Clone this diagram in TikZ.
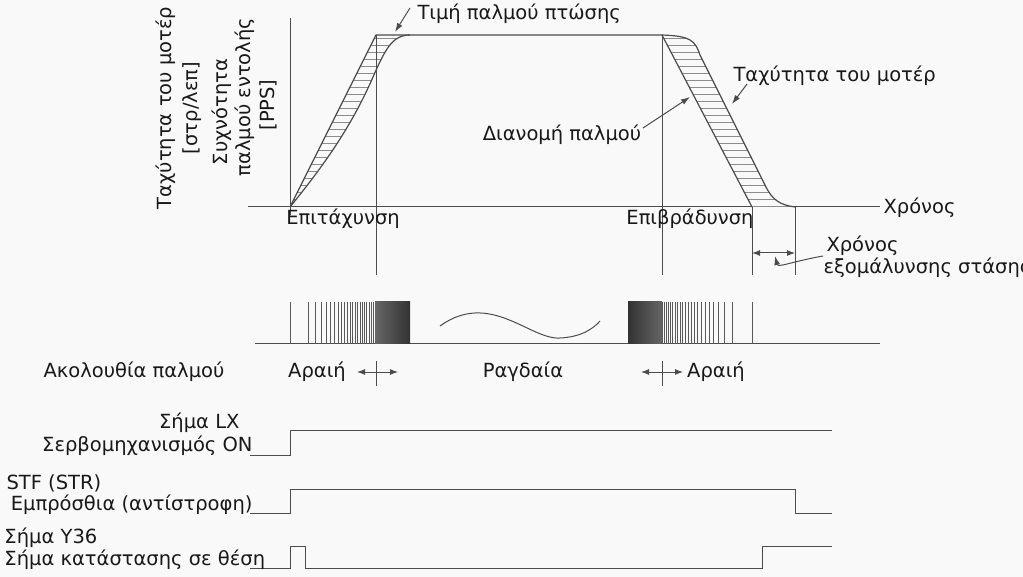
\documentclass[tikz,border=0pt]{standalone}
\usepackage{fontspec}
\setmainfont{DejaVu Sans}
\usetikzlibrary{arrows.meta}
\begin{document}
\begin{tikzpicture}[x=1pt,y=-1pt,line width=1pt,
  ln/.style={draw=black!70},
  lbl/.style={font=\fontsize{19.5}{22}\selectfont,inner sep=0pt,text=black!90},
  arr/.style={ln,-{Latex[length=9pt,width=6pt]}},
  hat/.style={draw=black!45,line width=0.6pt}]
\fill[white!95!gray] (0,0) rectangle (1023,577);
\useasboundingbox (0,0) rectangle (1023,577);
% axes
\draw[ln] (290,18) -- (290,215);
\draw[ln] (248,207) -- (880,207);
\node[lbl,anchor=west] (xr) at (883,208) {Χρόνος};
% hatching left
\begin{scope}
\clip (290,207) -- (376,35) -- (410,35) .. controls (392,35) and (385,50) .. (373,77) .. controls (350,130) and (320,170) .. (290,207);
\foreach \y in {38,45,...,207} \draw[hat] (280,\y) -- (420,\y);
\end{scope}
\begin{scope}
\clip (662,35) -- (752,207) -- (795,207) .. controls (780,205) and (772,200) .. (765,185) -- (700,55) .. controls (695,40) and (690,36) .. (662,35);
\foreach \y in {38,45,...,207} \draw[hat] (650,\y) -- (800,\y);
\end{scope}
% command curve
\draw[ln,line width=1.2pt] (290,207) -- (376,35) -- (662,35) -- (752,207);
% motor curve
\draw[ln,line width=1.2pt] (290,207) .. controls (320,170) and (350,130) .. (373,77) .. controls (385,50) and (392,35) .. (410,35);
\draw[ln,line width=1.2pt] (662,35) .. controls (690,36) and (695,40) .. (700,55) -- (765,185) .. controls (772,200) and (780,205) .. (795,207);
% verticals
\draw[ln] (376,35) -- (376,275);
\draw[ln] (662,35) -- (662,275);
\draw[ln] (752,207) -- (752,275);
\draw[ln] (795,207) -- (795,275);
% labels
\node[lbl] (acc) at (343,219) {Επιτάχυνση};
\node[lbl] (dec) at (690,219) {Επιβράδυνση};
\node[lbl,anchor=west] (peak) at (417,14) {Τιμή παλμού πτώσης};
\coordinate (pk) at (395,32);
\draw[arr] (410,8) -- (pk);
\node[lbl,anchor=west] (ms) at (733,76) {Ταχύτητα του μοτέρ};
\coordinate (msp) at (732,104);
\draw[arr] (747,84) -- (msp);
\node[lbl] (dist) at (562,135) {Διανομή παλμού};
\coordinate (dp) at (690,97);
\draw[arr] (643,128) -- (dp);
% smoothing time
\coordinate (s1) at (752,253); \coordinate (s2) at (795,253);
\draw[ln,{Latex[length=8pt,width=6pt]}-{Latex[length=8pt,width=6pt]}] (s1) -- (s2);
\node[lbl,anchor=west] (st1) at (826,246) {Χρόνος};
\node[lbl,anchor=west] (st2) at (823,268) {εξομάλυνσης στάσης};
\draw[arr] (823,256) .. controls (790,262) and (778,268) .. (775,256);
% rotated axis labels
\node[lbl,rotate=90] (v1) at (166,108) {Ταχύτητα του μοτέρ};
\node[lbl,rotate=90] (v2) at (192,108) {[στρ/λεπ]};
\node[lbl,rotate=90] (v3) at (222,112) {Συχνότητα};
\node[lbl,rotate=90] (v4) at (245,97) {παλμού εντολής};
\node[lbl,rotate=90] (v5) at (268,105) {[PPS]};
% pulse train
\draw[ln] (255,344) -- (880,344);
\foreach \k in {0,...,22} \draw[black!65,line width=0.8pt] ({290+85*sqrt(\k/22)},302) -- ({290+85*sqrt(\k/22)},344);
\shade[left color=black!60,right color=black!80] (375,302) rectangle (410,344);
\foreach \k in {0,...,22} \draw[black!65,line width=0.8pt] ({752-90*sqrt(\k/22)},302) -- ({752-90*sqrt(\k/22)},344);
\shade[left color=black!80,right color=black!60] (628,302) rectangle (662,344);
\draw[ln] (440,326) .. controls (490,290) and (530,340) .. (560,338) .. controls (580,337) and (592,330) .. (600,321);
\node[lbl] (seq) at (134,372) {Ακολουθία παλμού};
\node[lbl] (a1) at (317,372) {Αραιή};
\node[lbl] (rag) at (523,372) {Ραγδαία};
\node[lbl] (a2) at (716,372) {Αραιή};
\draw[ln,{Latex[length=8pt,width=6pt]}-{Latex[length=8pt,width=6pt]}] (357,372) -- (398,372);
\draw[ln] (376,361) -- (376,386);
\draw[ln,{Latex[length=8pt,width=6pt]}-{Latex[length=8pt,width=6pt]}] (641,372) -- (683,372);
\draw[ln] (662,361) -- (662,386);
% signals
\draw[ln] (250,455) -- (290,455) -- (290,430) -- (832,430);
\node[lbl,anchor=east] (lx1) at (240,423) {Σήμα LX};
\node[lbl,anchor=east] (lx2) at (253,446) {Σερβομηχανισμός ON};
\draw[ln] (250,513) -- (290,513) -- (290,489) -- (795,489) -- (795,513) -- (832,513);
\node[lbl,anchor=west] (stf1) at (6,483) {STF (STR)};
\node[lbl,anchor=east] (stf2) at (253,505) {Εμπρόσθια (αντίστροφη)};
\draw[ln] (250,568) -- (290,568) -- (290,546) -- (305,546) -- (305,568) -- (762,568) -- (762,546) -- (832,546);
\node[lbl,anchor=west] (y1) at (4,538) {Σήμα Y36};
\node[lbl,anchor=west] (y2) at (4,560) {Σήμα κατάστασης σε θέση};
\end{tikzpicture}
\end{document}
